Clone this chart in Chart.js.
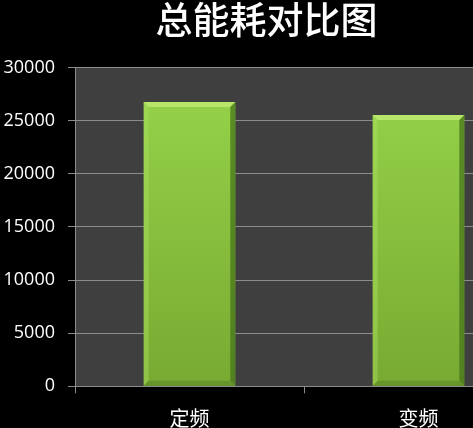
<!DOCTYPE html>
<html>
<head>
<meta charset="utf-8">
<script src="https://cdn.jsdelivr.net/npm/chart.js@4"></script>
<style>
  html, body { margin: 0; padding: 0; background: #000; overflow: hidden; }
  #wrap { width: 536px; height: 440px; }
</style>
</head>
<body>
<div id="wrap"><canvas id="grafico" width="536" height="440"></canvas></div>
<script>
const categorias = ['定频', '变频'];
const energia = [26750, 25530];
const ticksY = [0, 5000, 10000, 15000, 20000, 25000, 30000];

// fundo cinza da area do grafico
const fundoArea = {
    id: 'fundoArea',
    beforeDraw(chart) {
        const a = chart.chartArea;
        const c = chart.ctx;
        c.save();
        c.fillStyle = '#3f3f3f';
        c.fillRect(a.left, a.top, a.right - a.left, a.bottom - a.top);
        c.restore();
    }
};

// chanfro nas barras
const chanfro = {
    id: 'chanfro',
    afterDatasetsDraw(chart) {
        const c = chart.ctx;
        const meta = chart.getDatasetMeta(0);
        meta.data.forEach(function (bar) {
            const p = bar.getProps(['x', 'y', 'width', 'base'], true);
            const l = p.x - p.width / 2, r = p.x + p.width / 2;
            const t = p.y, b = p.base, d = 5;
            const lados = [
                [[l, t], [r, t], [r - d, t + d], [l + d, t + d], '#b8e66a'],
                [[l, t], [l + d, t + d], [l + d, b - d], [l, b], 'rgba(170,225,95,0.45)'],
                [[r, t], [r - d, t + d], [r - d, b - d], [r, b], 'rgba(70,115,25,0.75)'],
                [[l, b], [l + d, b - d], [r - d, b - d], [r, b], 'rgba(95,140,40,0.7)']
            ];
            c.save();
            lados.forEach(function (s) {
                c.beginPath();
                c.moveTo(s[0][0], s[0][1]);
                c.lineTo(s[1][0], s[1][1]);
                c.lineTo(s[2][0], s[2][1]);
                c.lineTo(s[3][0], s[3][1]);
                c.closePath();
                c.fillStyle = s[4];
                c.fill();
            });
            c.restore();
        });
    }
};

const ctx = document.getElementById('grafico');
const grafico = new Chart(ctx, {
    type: 'bar',
    data: {
        labels: categorias,
        datasets: [{
            label: 'energia',
            data: energia,
            barPercentage: 0.4,
            categoryPercentage: 1,
            backgroundColor: function (context) {
                const chart = context.chart;
                const a = chart.chartArea;
                if (!a) return '#88c03e';
                const g = chart.ctx.createLinearGradient(0, a.top, 0, a.bottom);
                g.addColorStop(0, '#97d54a');
                g.addColorStop(1, '#78aa32');
                return g;
            },
            borderWidth: 0
        }]
    },
    options: {
        responsive: false,
        animation: false,
        layout: { padding: { left: 0, right: 3, top: 0, bottom: 0 } },
        plugins: {
            legend: { display: false },
            tooltip: { enabled: false },
            title: {
                display: true,
                text: '总能耗对比图',
                color: '#ffffff',
                font: { family: '"Noto Sans CJK SC", sans-serif', size: 37, weight: 500, lineHeight: 1 },
                padding: { top: 1, bottom: 29.5 }
            }
        },
        scales: {
            x: {
                offset: true,
                grid: {
                    offset: true,
                    drawOnChartArea: false,
                    drawTicks: true,
                    tickLength: 7,
                    color: '#8c8c8c'
                },
                border: { display: true, color: '#8c8c8c' },
                ticks: {
                    color: '#ffffff',
                    padding: 13,
                    font: { family: '"Noto Sans CJK SC", sans-serif', size: 20 }
                },
                afterFit(scale) { scale.height = 53.7; }
            },
            y: {
                min: 0,
                max: 30000,
                afterBuildTicks(scale) { scale.ticks = ticksY.map(v => ({ value: v })); },
                grid: {
                    color: '#8c8c8c',
                    tickLength: 7,
                    lineWidth: 1
                },
                border: { display: true, color: '#8c8c8c' },
                ticks: {
                    color: '#ffffff',
                    padding: 13,
                    font: { family: '"Open Sans", sans-serif', size: 18 },
                    callback: function (v) { return String(v); }
                },
                afterFit(scale) { scale.width = 75; }
            }
        }
    },
    plugins: [fundoArea, chanfro]
});
</script>
</body>
</html>
